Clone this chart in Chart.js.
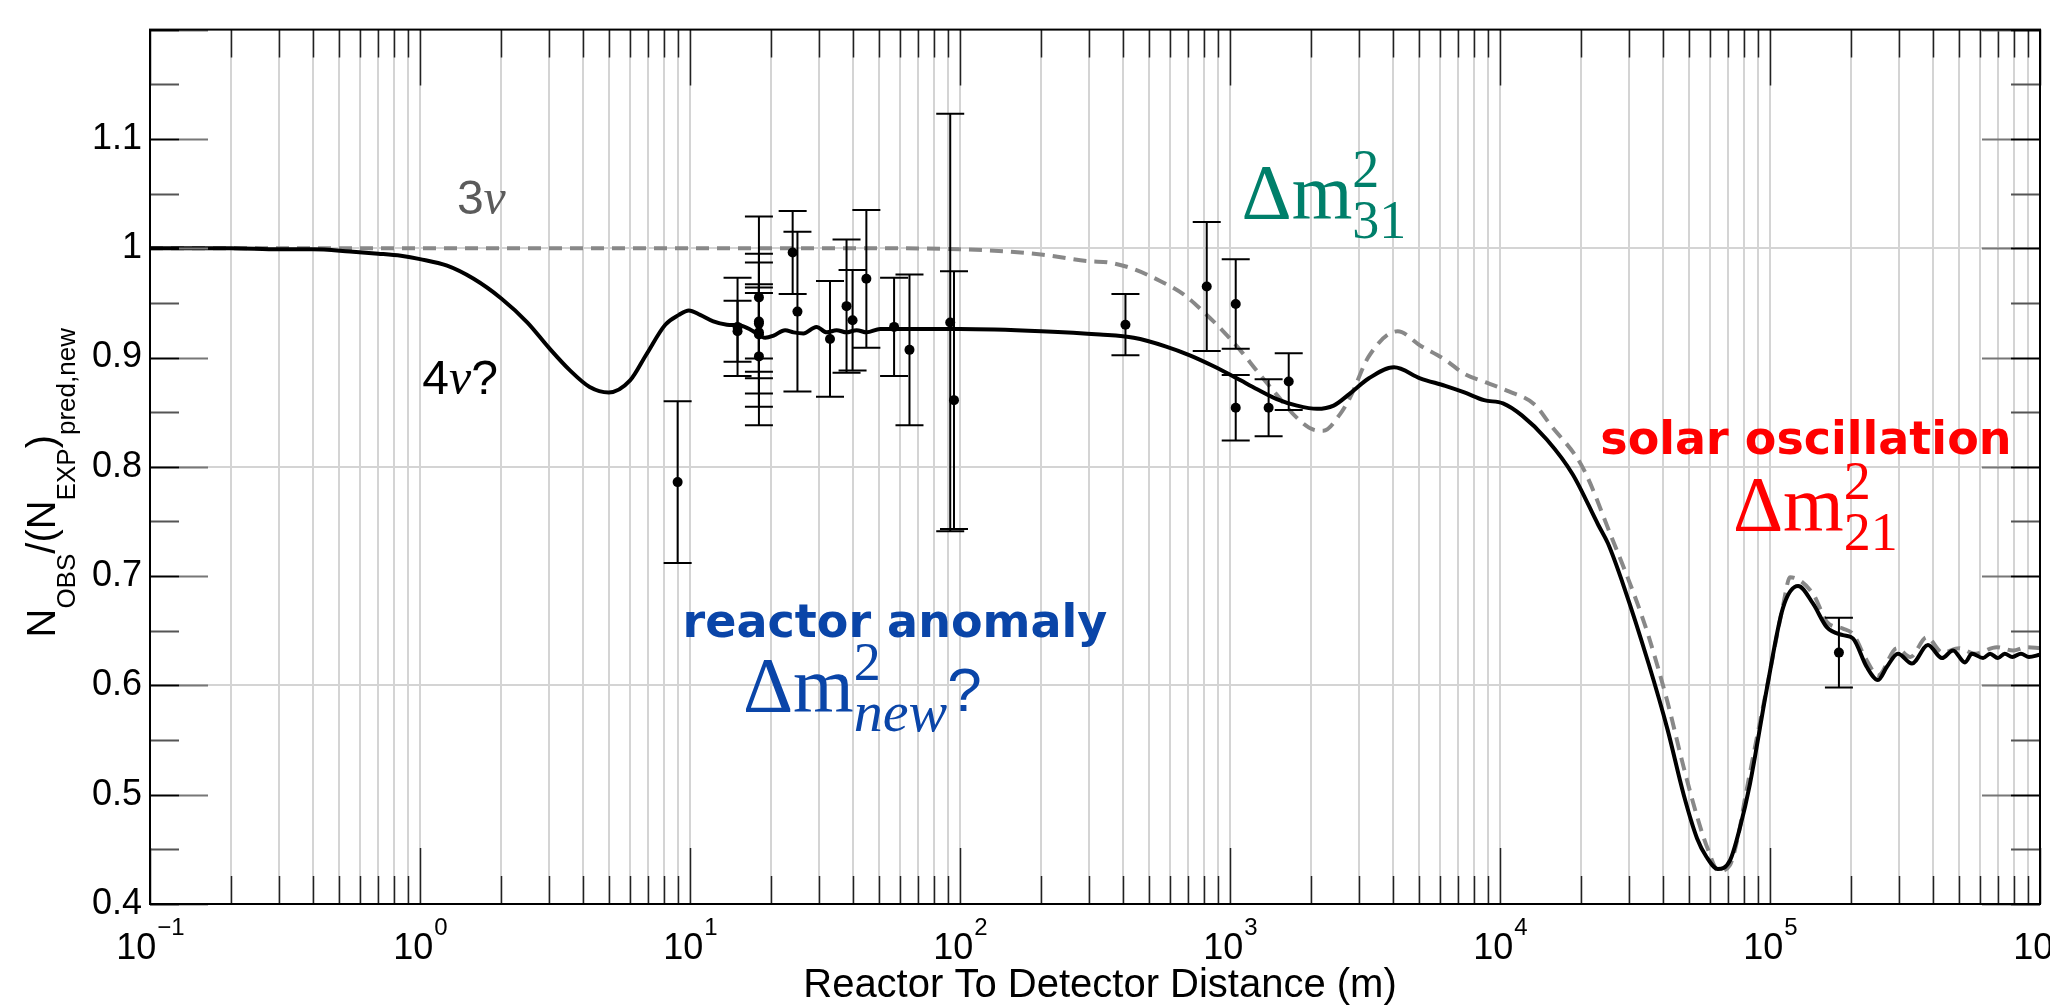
<!DOCTYPE html>
<html>
<head>
<meta charset="utf-8">
<script src="https://cdn.jsdelivr.net/npm/chart.js@4/dist/chart.umd.min.js"></script>
<style>
  html, body { margin: 0; padding: 0; background: #fff; }
  #wrap { width: 2050px; height: 1005px; position: relative; }
</style>
</head>
<body>
<div id="wrap"><canvas id="oscChart"></canvas></div>
<script>
// ─── Data ─────────────────────────────────────
// 4-neutrino (solid) curve: distance (m) / ratio
const FOUR_NU_DIST = [0.1, 0.2, 0.3, 0.4, 0.55, 0.7, 0.85, 1.0, 1.26, 1.58,
  2.0, 2.5, 3.0, 3.6, 4.25, 5.0, 6.0, 6.9, 8.1, 9.1,
  9.9, 10.9, 12.2, 13.7, 15.5, 16.9, 19.0, 20.4, 22.5, 24.2,
  26.3, 29.4, 32.1, 34.9, 38.0, 41.4, 45.1, 50.6, 70, 100,
  200, 330, 440, 580, 710, 870, 1060, 1260, 1490, 1770,
  2100, 2420, 2780, 3270, 4050, 5060, 6270, 7380, 8730, 10260,
  12050, 14900, 18600, 23100, 25100, 28800, 35500, 41700, 47900, 53700,
  58200, 64100, 71100, 77400, 84300, 97500, 111700, 127100, 144200, 162600,
  186200, 202800, 228000, 251200, 271000, 297800, 335700, 384600, 433500, 476400,
  527200, 559800, 615200, 653100, 698200, 740000, 790000, 850000, 910000, 1000000];
const FOUR_NU_RATIO = [1.000, 1.000, 0.999, 0.999, 0.997, 0.995, 0.993, 0.990, 0.984, 0.972,
  0.954, 0.932, 0.909, 0.888, 0.873, 0.868, 0.879, 0.903, 0.930, 0.939,
  0.943, 0.939, 0.933, 0.930, 0.929, 0.925, 0.918, 0.920, 0.925, 0.923,
  0.922, 0.928, 0.923, 0.925, 0.923, 0.925, 0.923, 0.926, 0.926, 0.926,
  0.924, 0.921, 0.918, 0.910, 0.902, 0.892, 0.881, 0.871, 0.862, 0.856,
  0.853, 0.856, 0.867, 0.881, 0.891, 0.881, 0.874, 0.868, 0.861, 0.858,
  0.847, 0.825, 0.793, 0.747, 0.730, 0.690, 0.620, 0.560, 0.500, 0.460,
  0.443, 0.432, 0.440, 0.470, 0.510, 0.598, 0.671, 0.691, 0.675, 0.653,
  0.646, 0.643, 0.617, 0.605, 0.617, 0.629, 0.620, 0.637, 0.625, 0.632,
  0.621, 0.629, 0.625, 0.629, 0.625, 0.629, 0.626, 0.629, 0.626, 0.628];

// 3-neutrino (dashed) curve
const THREE_NU_DIST = [0.1, 1, 10, 50, 100, 149, 203, 302, 354, 439,
  551, 671, 796, 944, 1089, 1256, 1489, 1766, 2037, 2218,
  2553, 2780, 3266, 4178, 5058, 6266, 7379, 8933, 10790, 13430,
  15310, 20280, 25760, 32060, 35500, 41700, 47900, 53700, 58900, 64600,
  70800, 75900, 81300, 97700, 112200, 118600, 144200, 162600, 186200, 202800,
  228000, 251200, 295100, 331100, 380200, 436500, 501200, 575400, 691800, 794300,
  891300, 1000000];
const THREE_NU_RATIO = [1.000, 1.000, 1.000, 1.000, 0.999, 0.997, 0.994, 0.988, 0.987, 0.981,
  0.970, 0.958, 0.942, 0.924, 0.907, 0.888, 0.866, 0.845, 0.834, 0.833,
  0.848, 0.863, 0.901, 0.924, 0.911, 0.898, 0.885, 0.877, 0.869, 0.857,
  0.839, 0.799, 0.737, 0.677, 0.645, 0.585, 0.525, 0.480, 0.450, 0.430,
  0.435, 0.460, 0.500, 0.600, 0.675, 0.699, 0.684, 0.658, 0.652, 0.647,
  0.623, 0.609, 0.634, 0.626, 0.644, 0.630, 0.634, 0.629, 0.635, 0.632,
  0.635, 0.634];

// reactor experiments: distance (m), ratio, symmetric error
const EXP_DIST  = [9, 15, 15, 18, 18, 18, 18, 18, 18, 24, 25, 33, 38, 40, 45, 57, 65, 92, 95,
  410, 820, 1050, 1050, 1390, 1650, 180000];
const EXP_RATIO = [0.786, 0.928, 0.924, 0.955, 0.931, 0.933, 0.923, 0.921, 0.901, 0.996, 0.942,
  0.917, 0.947, 0.934, 0.972, 0.928, 0.907, 0.932, 0.861,
  0.930, 0.965, 0.949, 0.854, 0.854, 0.878, 0.630];
const EXP_ERR   = [0.074, 0.045, 0.028, 0.074, 0.064, 0.034, 0.036, 0.066, 0.063, 0.038, 0.073,
  0.053, 0.061, 0.046, 0.063, 0.045, 0.069, 0.191, 0.118,
  0.028, 0.059, 0.041, 0.030, 0.026, 0.026, 0.032];

// axes
const X_DECADES = [-1, 0, 1, 2, 3, 4, 5, 6];
const Y_LABELS  = [0.4, 0.5, 0.6, 0.7, 0.8, 0.9, 1, 1.1];
const Y_GRID    = [0.6, 0.8, 1.0];

// ─── Fonts / colours ──────────────────────────
const SANS  = '"Liberation Sans", Arial, sans-serif';
const BOLD  = '"DejaVu Sans", sans-serif';
const SERIF = '"Liberation Serif", "DejaVu Serif", serif';
const GRID_COLOR = '#d4d4d4';

const near = (a, b) => Math.abs(a - b) < 1e-6;
const pts = (xs, ys) => xs.map((x, i) => ({ x, y: ys[i] }));

// draw a run of text pieces; a piece with stack:true starts where the previous one did
function drawRuns(ctx, x, y, color, segs) {
  let cx = x, prevStart = x;
  ctx.fillStyle = color;
  ctx.textAlign = 'left';
  ctx.textBaseline = 'alphabetic';
  for (const s of segs) {
    ctx.font = s.f;
    const w = ctx.measureText(s.t).width;
    const sx = s.stack ? prevStart : cx;
    ctx.fillText(s.t, sx, y + (s.dy || 0));
    if (s.stack) cx = Math.max(cx, sx + w);
    else { prevStart = sx; cx = sx + w; }
  }
  return cx - x;
}

function deltaM(sub, subItalic) {
  return [
    { t: 'Δm', f: `78px ${SERIF}` },
    { t: '2', f: `54px ${SERIF}`, dy: -31 },
    { t: sub, f: `${subItalic ? 'italic 58px' : '54px'} ${SERIF}`, dy: 20, stack: true },
  ];
}

// ─── Plugin: error bars, ticks, frame, labels ─
const decorPlugin = {
  id: 'decor',
  afterDatasetsDraw(chart) {
    const { ctx, scales: { x, y } } = chart;
    ctx.save();

    // error bars
    ctx.strokeStyle = '#000';
    ctx.lineWidth = 2;
    EXP_DIST.forEach((d, i) => {
      const px = x.getPixelForValue(d);
      const top = y.getPixelForValue(EXP_RATIO[i] + EXP_ERR[i]);
      const bot = y.getPixelForValue(EXP_RATIO[i] - EXP_ERR[i]);
      ctx.beginPath();
      ctx.moveTo(px, top); ctx.lineTo(px, bot);
      ctx.moveTo(px - 14, top); ctx.lineTo(px + 14, top);
      ctx.moveTo(px - 14, bot); ctx.lineTo(px + 14, bot);
      ctx.stroke();
    });

    // annotations
    const P = (dx, dy) => [x.getPixelForValue(dx), y.getPixelForValue(dy)];
    let [ax, ay] = P(1.37, 1.031);
    drawRuns(ctx, ax, ay, '#5b5b5b', [{ t: '3', f: `48px ${SANS}` }, { t: 'ν', f: `italic 50px ${SERIF}` }]);
    [ax, ay] = P(1.02, 0.8665);
    drawRuns(ctx, ax, ay, '#000', [{ t: '4', f: `48px ${SANS}` }, { t: 'ν', f: `italic 50px ${SERIF}` }, { t: '?', f: `48px ${SANS}` }]);
    [ax, ay] = P(1103, 1.0274);
    drawRuns(ctx, ax, ay, '#007f6a', deltaM('31'));
    [ax, ay] = P(72900, 0.742);
    drawRuns(ctx, ax, ay, '#ff0000', deltaM('21'));
    [ax, ay] = P(15.7, 0.5768);
    drawRuns(ctx, ax, ay, '#0a45a8', [...deltaM('new', true), { t: '?', f: `62px ${SANS}` }]);

    ctx.font = `bold 46px ${BOLD}`;
    ctx.textAlign = 'center';
    ctx.fillStyle = '#ff0000';
    [ax, ay] = P(135800, 0.812);
    ctx.fillText('solar oscillation', ax, ay);
    ctx.fillStyle = '#0a45a8';
    [ax, ay] = P(57.4, 0.6444);
    ctx.fillText('reactor anomaly', ax, ay);

    ctx.restore();
  },
  afterDraw(chart) {
    const { ctx, chartArea: a, scales: { x, y } } = chart;
    ctx.save();

    // inner tick marks, x (bottom + top)
    ctx.strokeStyle = '#222';
    ctx.lineWidth = 1.5;
    x.ticks.forEach(t => {
      const px = Math.round(x.getPixelForValue(t.value)) + 0.5;
      const major = near(Math.log10(t.value), Math.round(Math.log10(t.value)));
      const len = major ? 56 : 28;
      ctx.beginPath();
      ctx.moveTo(px, a.bottom); ctx.lineTo(px, a.bottom - len);
      ctx.moveTo(px, a.top); ctx.lineTo(px, a.top + len);
      ctx.stroke();
    });

    // inner tick marks, y (left + right)
    y.ticks.forEach(t => {
      const py = Math.round(y.getPixelForValue(t.value)) + 0.5;
      const major = near(t.value * 10, Math.round(t.value * 10));
      ctx.lineWidth = 2;
      ctx.strokeStyle = major ? '#000' : '#555';
      ctx.beginPath();
      ctx.moveTo(a.left, py); ctx.lineTo(a.left + 29, py);
      ctx.moveTo(a.right, py); ctx.lineTo(a.right - 29, py);
      ctx.stroke();
      if (major) {
        ctx.strokeStyle = '#777';
        ctx.beginPath();
        ctx.moveTo(a.left + 29, py); ctx.lineTo(a.left + 58, py);
        ctx.moveTo(a.right - 29, py); ctx.lineTo(a.right - 58, py);
        ctx.stroke();
      }
    });

    // frame
    ctx.strokeStyle = '#000';
    ctx.lineWidth = 2;
    ctx.strokeRect(a.left, a.top, a.right - a.left, a.bottom - a.top);

    // x tick labels: 10^n
    ctx.fillStyle = '#000';
    ctx.textBaseline = 'alphabetic';
    ctx.textAlign = 'left';
    X_DECADES.forEach(d => {
      const px = x.getPixelForValue(Math.pow(10, d));
      const exp = d < 0 ? '\u2212' + Math.abs(d) : String(d);
      ctx.font = `36px ${SANS}`;
      const w1 = ctx.measureText('10').width;
      ctx.font = `24px ${SANS}`;
      const w2 = ctx.measureText(exp).width;
      const sx = px - (w1 + w2) / 2;
      ctx.font = `36px ${SANS}`;
      ctx.fillText('10', sx, a.bottom + 55);
      ctx.font = `24px ${SANS}`;
      ctx.fillText(exp, sx + w1 + 1, a.bottom + 31);
    });

    // x title
    ctx.font = `40px ${SANS}`;
    ctx.textAlign = 'center';
    ctx.fillText('Reactor To Detector Distance (m)', (a.left + a.right) / 2 + 5, a.bottom + 93);

    // y title, rotated, with subscripts
    const segs = [
      { t: 'N', f: `40px ${SANS}` },
      { t: 'OBS', f: `26px ${SANS}`, dy: 20 },
      { t: '/(', f: `40px ${SANS}` },
      { t: 'N', f: `40px ${SANS}` },
      { t: 'EXP', f: `26px ${SANS}`, dy: 20 },
      { t: ')', f: `40px ${SANS}` },
      { t: 'pred,new', f: `26px ${SANS}`, dy: 20 },
    ];
    let total = 0;
    segs.forEach(s => { ctx.font = s.f; total += ctx.measureText(s.t).width; });
    ctx.translate(55, (a.top + a.bottom) / 2 + 16);
    ctx.rotate(-Math.PI / 2);
    drawRuns(ctx, -total / 2, 0, '#000', segs);

    ctx.restore();
  },
};

// ─── Chart ────────────────────────────────────
Chart.defaults.font.family = SANS;

new Chart(document.getElementById('oscChart'), {
  type: 'line',
  data: {
    datasets: [
      {
        label: 'reactor data',
        data: pts(EXP_DIST, EXP_RATIO),
        showLine: false,
        pointRadius: 5, pointHoverRadius: 5,
        pointBackgroundColor: '#000', pointBorderWidth: 0,
        order: 0,
      },
      {
        label: '4nu',
        data: pts(FOUR_NU_DIST, FOUR_NU_RATIO),
        borderColor: '#000', borderWidth: 4,
        pointRadius: 0, cubicInterpolationMode: 'monotone',
        order: 1,
      },
      {
        label: '3nu',
        data: pts(THREE_NU_DIST, THREE_NU_RATIO),
        borderColor: '#888', borderWidth: 4, borderDash: [13, 8],
        pointRadius: 0, cubicInterpolationMode: 'monotone',
        order: 2,
      },
    ],
  },
  options: {
    responsive: true,
    maintainAspectRatio: false,
    animation: false,
    events: [],
    layout: { padding: { top: 29, right: 10, left: 0, bottom: 0 } },
    plugins: { legend: { display: false }, tooltip: { enabled: false } },
    scales: {
      x: {
        type: 'logarithmic',
        min: 0.1, max: 1e6,
        afterBuildTicks(scale) {
          const ticks = [];
          X_DECADES.slice(0, -1).forEach(d => {
            for (let m = 1; m <= 9; m++) ticks.push({ value: Number((m * Math.pow(10, d)).toPrecision(3)) });
          });
          ticks.push({ value: Math.pow(10, X_DECADES[X_DECADES.length - 1]) });
          scale.ticks = ticks;
        },
        afterFit(scale) { scale.height = 101; },
        ticks: { display: false },
        grid: { color: GRID_COLOR, lineWidth: 2, drawTicks: false },
        border: { display: false },
      },
      y: {
        min: 0.4, max: 1.2,
        afterBuildTicks(scale) {
          const ticks = [];
          for (let i = 0; i <= 16; i++) ticks.push({ value: +(0.4 + i * 0.05).toFixed(2) });
          scale.ticks = ticks;
        },
        afterFit(scale) { scale.width = 150; },
        ticks: {
          color: '#000',
          font: { size: 36, family: SANS },
          padding: 8,
          callback: v => (Y_LABELS.some(l => near(l, v)) ? String(+v.toFixed(2)) : ''),
        },
        grid: {
          color: c => (Y_GRID.some(g => near(g, c.tick.value)) ? GRID_COLOR : 'rgba(0,0,0,0)'),
          lineWidth: 2,
          drawTicks: false,
        },
        border: { display: false },
      },
    },
  },
  plugins: [decorPlugin],
});
</script>
</body>
</html>
